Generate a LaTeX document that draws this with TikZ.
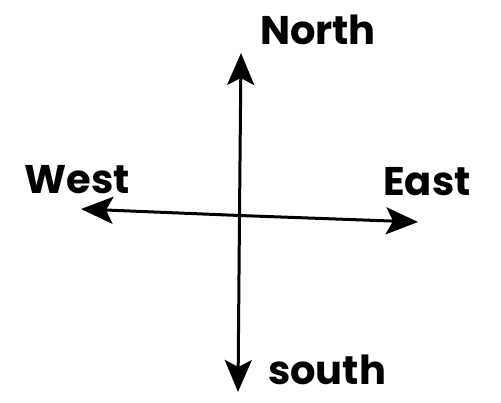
\documentclass[tikz,border=0pt]{standalone}
\usepackage{fontspec}
\setmainfont{Poppins}
\usetikzlibrary{arrows.meta}
\begin{document}
\begin{tikzpicture}[x=1pt,y=-1pt,
  axis/.style={line width=3pt,-{Stealth[length=32pt,width=27pt,inset=7pt]}},
  lbl/.style={font=\fontsize{40}{40}\selectfont\bfseries,inner sep=0pt}]
\useasboundingbox (0,0) rectangle (501,403);
\coordinate (c) at (239.5,215.5);
\coordinate (n) at (241,53);
\coordinate (s) at (238,392);
\coordinate (w) at (81,209);
\coordinate (e) at (418,222);
\draw[axis] (c) -- (n);
\draw[axis] (c) -- (s);
\draw[axis] (c) -- (w);
\draw[axis] (c) -- (e);
\node[lbl] (north) at (318,30) {North};
\node[lbl] (west) at (77,180) {West};
\node[lbl] (east) at (427,182) {East};
\node[lbl] (south) at (327,370) {south};
\end{tikzpicture}
\end{document}
